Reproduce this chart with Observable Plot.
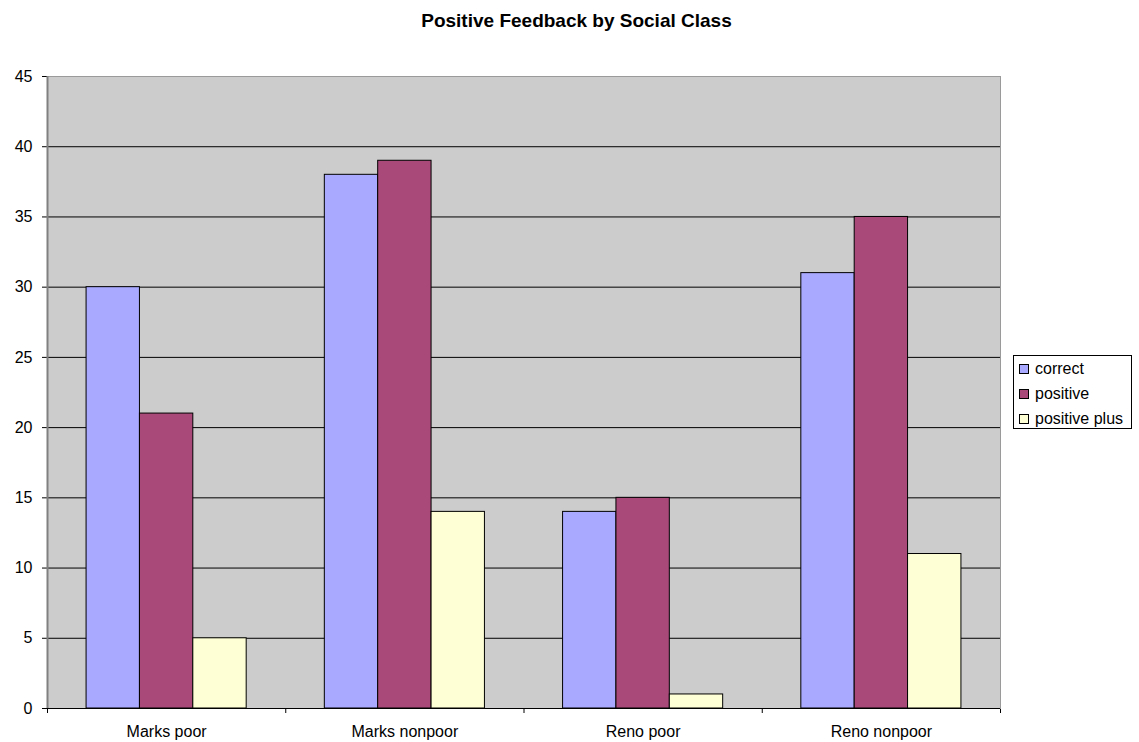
<!DOCTYPE html>
<html>
<head>
<meta charset="utf-8">
<script src="https://cdn.jsdelivr.net/npm/d3@7"></script>
<script src="https://cdn.jsdelivr.net/npm/@observablehq/plot@0.6"></script>
<style>
  html, body { margin: 0; padding: 0; background: #fff; }
  body { width: 1139px; height: 742px; position: relative; font-family: "Liberation Sans", Arial, sans-serif; }
  #title { position: absolute; left: 0; top: 0; width: 1153px; height: 50px; text-align: center;
           font-weight: bold; font-size: 19px; line-height: 19px; padding-top: 11px; box-sizing: border-box; color: #000; }
  #chart { position: absolute; left: 0; top: 50px; }
  #chart svg text { font-size: 16px !important; font-family: "Liberation Sans", Arial, sans-serif; fill: #000; }
  #legend { position: absolute; left: 1013px; top: 355px; width: 119px; height: 74px; box-sizing: border-box;
            border: 1px solid #000; background: #fff; padding: 0 0 0 5px; font-size: 16px; color: #000; }
  #legend .item { display: flex; align-items: center; height: 25px; }
  #legend .sw { width: 8px; height: 8px; border: 1px solid #000; margin-right: 6px; box-sizing: content-box; flex: none; }
</style>
</head>
<body>
<div id="title">Positive Feedback by Social Class</div>
<div id="chart"></div>
<div id="legend"></div>
<script>
// Groups along the x axis and the three feedback series
const categories = ["Marks poor", "Marks nonpoor", "Reno poor", "Reno nonpoor"];
const series = ["correct", "positive", "positive plus"];
const correct = [30, 38, 14, 31];
const positive = [21, 39, 15, 35];
const positivePlus = [5, 14, 1, 11];
const yTicks = [0, 5, 10, 15, 20, 25, 30, 35, 40, 45];
const colors = ["#a9a9ff", "#a9497a", "#ffffd6"];

// Long-format table: one row per bar
const rows = [];
[correct, positive, positivePlus].forEach((vals, si) => {
  vals.forEach((v, ci) => rows.push({category: categories[ci], ci, series: series[si], si, value: v}));
});

// Each group occupies one unit on x; bars sit side by side around its centre
const barWidth = 0.224;
const x1 = d => d.ci + 0.5 + (d.si - 1.5) * barWidth;
const x2 = d => x1(d) + barWidth;

const plot = Plot.plot({
  width: 1139,
  height: 692,
  marginLeft: 47,
  marginRight: 139,
  marginTop: 26,
  marginBottom: 34,
  style: {fontFamily: "'Liberation Sans', Arial, sans-serif", fontSize: "16px", color: "#000", background: "transparent"},
  x: {domain: [0, categories.length], ticks: d3.range(categories.length + 1), tickFormat: () => "", tickSize: 5, label: null},
  y: {domain: [0, 45], ticks: yTicks, tickSize: 5, tickPadding: 10, label: null},
  color: {domain: series, range: colors},
  marks: [
    Plot.frame({fill: "#cccccc", stroke: "#9a9a9a"}),
    Plot.ruleY(yTicks.filter(t => t > 0 && t < 45), {stroke: "#000", strokeWidth: 1}),
    Plot.rectY(rows, {x1, x2, y1: 0, y2: "value", fill: "series", stroke: "#000", strokeWidth: 1}),
    Plot.ruleY([0], {stroke: "#000", strokeWidth: 1}),
    Plot.ruleX([0], {stroke: "#808080", strokeWidth: 2}),
    Plot.text(categories, {x: (d, i) => i + 0.5, frameAnchor: "bottom", dy: 28, text: d => d, fontSize: 16})
  ]
});
document.getElementById("chart").appendChild(plot);

// Legend built from the plot's colour scale
const colorScale = plot.scale("color");
const legend = d3.select("#legend");
series.forEach(s => {
  const item = legend.append("div").attr("class", "item");
  item.append("div").attr("class", "sw").style("background", colorScale.apply(s));
  item.append("span").text(s);
});
</script>
</body>
</html>
